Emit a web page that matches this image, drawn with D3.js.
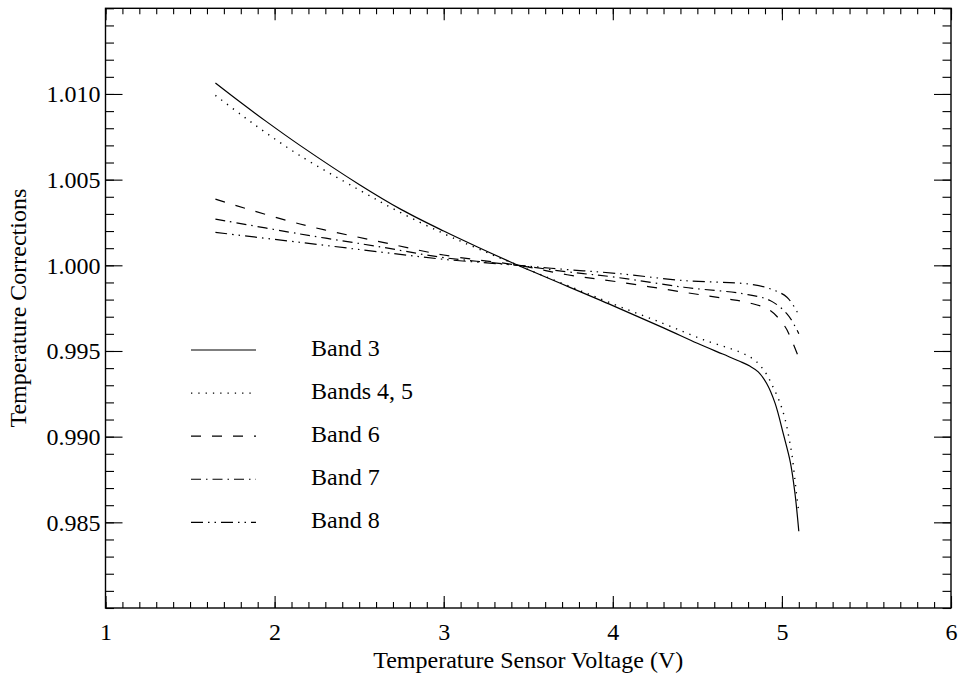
<!DOCTYPE html>
<html><head><meta charset="utf-8">
<script src="https://cdn.jsdelivr.net/npm/d3@7"></script>
<style>
html,body{margin:0;padding:0;background:#fff;}
text{font-family:"Liberation Serif","Times New Roman",serif;fill:#000;}
</style></head>
<body><svg id="c" width="961" height="673"></svg>
<script>
// ---- data ----
const xTicks = [1, 2, 3, 4, 5, 6];
const yTicks = [0.985, 0.990, 0.995, 1.000, 1.005, 1.010];
const legendLabels = ["Band 3", "Bands 4, 5", "Band 6", "Band 7", "Band 8"];

const band3X = [1.65, 1.80, 1.95, 2.15, 2.50, 2.75, 3.00, 3.20, 3.44, 4.00, 4.30, 4.50, 4.65, 4.75, 4.81, 4.86, 4.91, 4.96, 5.01, 5.05, 5.077, 5.10];
const band3Y = [1.01064, 1.00950, 1.00840, 1.00700, 1.00472, 1.00325, 1.00200, 1.00107, 1.00000, 0.99765, 0.99635, 0.99545, 0.99482, 0.99440, 0.99412, 0.99378, 0.99310, 0.99194, 0.99010, 0.98850, 0.98671, 0.98448];

const band45X = [1.65, 1.80, 1.95, 2.15, 2.50, 2.75, 3.00, 3.20, 3.44, 4.00, 4.30, 4.535, 4.75, 4.84, 4.90, 4.95, 4.99, 5.02, 5.044, 5.061, 5.077, 5.087, 5.10];
const band45Y = [1.00992, 1.00880, 1.00773, 1.00640, 1.00440, 1.00305, 1.00185, 1.00098, 1.00000, 0.99775, 0.99660, 0.99566, 0.99494, 0.99446, 0.99378, 0.99285, 0.99194, 0.99097, 0.98981, 0.98884, 0.98748, 0.98660, 0.98560];

const band6X = [1.65, 2.15, 2.64, 3.00, 3.44, 3.73, 4.02, 4.42, 4.67, 4.81, 4.93, 5.02, 5.05, 5.10];
const band6Y = [1.00386, 1.00241, 1.00134, 1.00060, 1.00000, 0.99945, 0.99905, 0.99843, 0.99805, 0.99780, 0.99737, 0.99640, 0.99581, 0.99460];

const band7X = [1.65, 2.15, 2.64, 3.00, 3.44, 3.73, 4.02, 4.42, 4.77, 4.93, 5.03, 5.08, 5.10];
const band7Y = [1.00270, 1.00183, 1.00105, 1.00045, 1.00000, 0.99962, 0.99930, 0.99872, 0.99834, 0.99795, 0.99717, 0.99640, 0.99600];

const band8X = [1.65, 2.15, 2.64, 3.00, 3.44, 3.73, 4.02, 4.42, 4.81, 4.93, 5.03, 5.10];
const band8Y = [1.00192, 1.00134, 1.00076, 1.00035, 1.00000, 0.99975, 0.99953, 0.99911, 0.99890, 0.99863, 0.99814, 0.99710];

const seriesX = [band3X, band45X, band6X, band7X, band8X];
const seriesY = [band3Y, band45Y, band6Y, band7Y, band8Y];

// ---- styles ----
const dashes = [null, "1.3,6", "10,11", "10,5,1.5,5", "12,5,1.5,5,1.5,5"];

const svg = d3.select("#c");
const L = 105.5, R = 951, T = 8.3, B = 608;
const x = d3.scaleLinear().domain([1, 6]).range([L, R]);
const y = d3.scaleLinear().domain([0.980, 1.015]).range([B, T]);

const FS = 24;
const xMinor = d3.range(1, 6.0001, 0.1).map(v => +v.toFixed(2));
const yMinor = d3.range(0.980, 1.01501, 0.001).map(v => +v.toFixed(3));

function styleAxis(g){ g.select(".domain").remove(); g.selectAll("line").attr("stroke","#000").attr("stroke-width",1.1); }

// minor + major ticks, inward on all four sides
svg.append("g").attr("transform",`translate(0,${B})`).call(d3.axisBottom(x).tickValues(xMinor).tickSize(-6).tickFormat("")).call(styleAxis);
svg.append("g").attr("transform",`translate(0,${B})`).call(d3.axisBottom(x).tickValues(xTicks).tickSize(-12).tickPadding(32).tickFormat(d3.format("d")))
  .call(styleAxis).call(g=>g.selectAll("text").attr("font-size",FS).attr("font-family","Liberation Serif").attr("dy","0"));
svg.append("g").attr("transform",`translate(0,${T})`).call(d3.axisTop(x).tickValues(xMinor).tickSize(-6).tickFormat("")).call(styleAxis);
svg.append("g").attr("transform",`translate(0,${T})`).call(d3.axisTop(x).tickValues(xTicks).tickSize(-12).tickFormat("")).call(styleAxis);

svg.append("g").attr("transform",`translate(${L},0)`).call(d3.axisLeft(y).tickValues(yMinor).tickSize(-8.5).tickFormat("")).call(styleAxis);
svg.append("g").attr("transform",`translate(${L},0)`).call(d3.axisLeft(y).tickValues(yTicks).tickSize(-17).tickPadding(5).tickFormat(d3.format(".3f")))
  .call(styleAxis).call(g=>g.selectAll("text").attr("font-size",FS).attr("font-family","Liberation Serif"));
svg.append("g").attr("transform",`translate(${R},0)`).call(d3.axisRight(y).tickValues(yMinor).tickSize(-8.5).tickFormat("")).call(styleAxis);
svg.append("g").attr("transform",`translate(${R},0)`).call(d3.axisRight(y).tickValues(yTicks).tickSize(-17).tickFormat("")).call(styleAxis);

// frame
svg.append("rect").attr("x",L).attr("y",T).attr("width",R-L).attr("height",B-T)
  .attr("fill","none").attr("stroke","#000").attr("stroke-width",1.4);

// axis titles
svg.append("text").attr("x",(L+R)/2).attr("y",668).attr("text-anchor","middle").attr("font-size",FS)
  .text("Temperature Sensor Voltage (V)");
svg.append("text").attr("transform",`translate(26,${(T+B)/2}) rotate(-90)`).attr("text-anchor","middle").attr("font-size",FS)
  .text("Temperature Corrections");

// curves
const line = d3.line().x(d=>x(d[0])).y(d=>y(d[1])).curve(d3.curveCatmullRom.alpha(0.5));
seriesX.forEach((xs,i)=>{
  const pts = xs.map((v,j)=>[v, seriesY[i][j]]);
  svg.append("path").datum(pts).attr("d",line).attr("fill","none").attr("stroke","#000")
    .attr("stroke-width", i===1 ? 1.4 : 1.2).attr("stroke-dasharray", dashes[i]);
});

// legend
const legY = d3.scaleLinear().domain([0,4]).range([350, 522.3]);
legendLabels.forEach((lab,i)=>{
  const yy = legY(i);
  svg.append("line").attr("x1",191).attr("x2",256).attr("y1",yy).attr("y2",yy)
    .attr("stroke","#000").attr("stroke-width", i===1 ? 1.4 : 1.2).attr("stroke-dasharray", dashes[i]);
  svg.append("text").attr("x",311).attr("y",yy+6).attr("font-size",FS).text(lab);
});
</script></body></html>
